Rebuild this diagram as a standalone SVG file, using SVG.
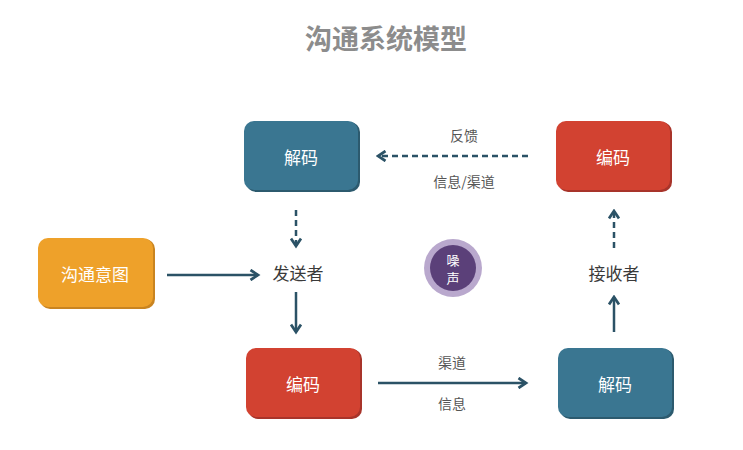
<svg xmlns="http://www.w3.org/2000/svg" width="743" height="450" viewBox="0 0 743 450">
<defs>
<marker id="chev" viewBox="0 0 10 10" refX="8" refY="5" markerWidth="5" markerHeight="5" orient="auto" markerUnits="strokeWidth">
<polyline points="2,1 8,5 2,9" fill="none" stroke="#2b5266" stroke-width="2.2" stroke-linejoin="miter"/>
</marker>
</defs>
<style>
.t{font-family:"Noto Sans CJK SC",sans-serif;}
.nl{font-family:"Noto Sans CJK SC",sans-serif;font-size:17px;fill:#ffffff;text-anchor:middle;dominant-baseline:central;}
.lbl{font-family:"Noto Sans CJK SC",sans-serif;font-size:17px;fill:#3a3a3a;text-anchor:middle;dominant-baseline:central;}
.sm{font-family:"Noto Sans CJK SC",sans-serif;font-size:14px;fill:#555555;text-anchor:middle;dominant-baseline:central;}
.ln{stroke:#2b5266;stroke-width:2.5;fill:none;marker-end:url(#chev);}
.dash{stroke-dasharray:6,4;}
.teal{fill:#3a7691;}
.tealS{fill:#2c5a6e;}
.red{fill:#d24231;}
.redS{fill:#a8342a;}
.org{fill:#eea12a;}
.orgS{fill:#c98420;}
</style>
<rect width="743" height="450" fill="#ffffff"/>
<text x="386" y="37" class="t" font-size="27" font-weight="bold" fill="#8c8c8c" text-anchor="middle" dominant-baseline="central">沟通系统模型</text>

<g id="decode-top">
<rect x="246" y="122" width="114" height="70" rx="10" class="tealS"/>
<rect x="244" y="121" width="114" height="69" rx="10" class="teal"/>
<text x="301" y="156" class="nl">解码</text>
</g>
<g id="encode-top">
<rect x="558" y="122" width="114" height="70" rx="10" class="redS"/>
<rect x="556" y="121" width="114" height="69" rx="10" class="red"/>
<text x="613" y="156" class="nl">编码</text>
</g>
<g id="intent">
<rect x="40" y="239" width="115" height="70" rx="10" class="orgS"/>
<rect x="38" y="238" width="115" height="69" rx="10" class="org"/>
<text x="95" y="273" class="nl">沟通意图</text>
</g>
<g id="encode-bottom">
<rect x="248" y="349" width="114" height="70" rx="10" class="redS"/>
<rect x="246" y="348" width="114" height="69" rx="10" class="red"/>
<text x="303" y="383" class="nl">编码</text>
</g>
<g id="decode-bottom">
<rect x="560" y="349" width="114" height="70" rx="10" class="tealS"/>
<rect x="558" y="348" width="114" height="69" rx="10" class="teal"/>
<text x="615" y="383" class="nl">解码</text>
</g>
<g id="noise">
<circle cx="453" cy="268" r="29" fill="#b9a8cd"/>
<circle cx="453" cy="268" r="23" fill="#5b4079"/>
<text x="453" y="259" class="t" font-size="13" fill="#ffffff" text-anchor="middle" dominant-baseline="central">噪</text>
<text x="453" y="277" class="t" font-size="13" fill="#ffffff" text-anchor="middle" dominant-baseline="central">声</text>
</g>
<g id="sender"><text x="298" y="272" class="lbl">发送者</text></g>
<g id="receiver"><text x="614" y="272" class="lbl">接收者</text></g>

<g id="connectors">
<line x1="296" y1="210" x2="296" y2="246" class="ln dash"/>
<line x1="296" y1="292" x2="296" y2="332" class="ln"/>
<line x1="167" y1="275" x2="258" y2="275" class="ln"/>
<line x1="528" y1="156" x2="378" y2="156" class="ln dash"/>
<line x1="378" y1="383" x2="526" y2="383" class="ln"/>
<line x1="614" y1="248" x2="614" y2="211" class="ln dash"/>
<line x1="614" y1="332" x2="614" y2="297" class="ln"/>
<text x="464" y="135" class="sm">反馈</text>
<text x="464" y="181" class="sm">信息/渠道</text>
<text x="452" y="362" class="sm">渠道</text>
<text x="452" y="403" class="sm">信息</text>
</g>
</svg>
